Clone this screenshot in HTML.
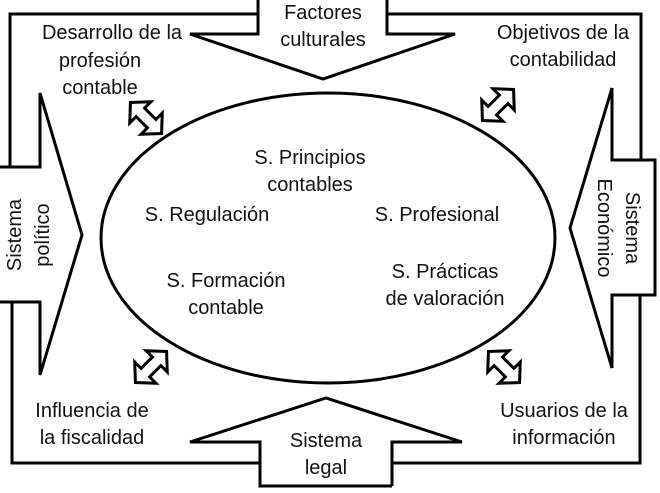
<!DOCTYPE html>
<html><head><meta charset="utf-8"><style>
html,body{margin:0;padding:0;background:#fff;}
svg{display:block;}
text{font-family:"Liberation Sans",sans-serif;font-size:20px;fill:#111;text-anchor:middle;}
</style></head><body>
<svg width="660" height="493" viewBox="0 0 660 493" xmlns="http://www.w3.org/2000/svg">
<g fill="none" stroke="#000" stroke-width="3" stroke-linejoin="miter">
<polyline points="40,167 10,167 10,14 258,14 258,-2"/>
<polyline points="258,-2 258,34 190,34 323,79 455,34 387,34 387,-2"/>
<polyline points="387,14 641,14 641,160 612,160 612,88 570,228 612,368 612,295 655,295 655,160 612,160"/>
<polyline points="640,295 640,463 392,463"/>
<polyline points="392,486 392,442 462,442 326,398 190,442 260,442 260,486 392,486"/>
<polyline points="260,463 12,463 12,302"/>
<polyline points="-2,302 40,302 40,375 82,235 40,93 40,167 -2,167"/>
<ellipse cx="328" cy="238" rx="227" ry="145"/>
</g>
<g fill="#fff" stroke="#000" stroke-width="3" stroke-linejoin="miter">
<polygon transform="translate(146,118) rotate(45)" points="-22,0 -8,-15 -8,-6 8,-6 8,-15 22,0 8,15 8,6 -8,6 -8,15"/>
<polygon transform="translate(498,105) rotate(-45)" points="-22,0 -8,-15 -8,-6 8,-6 8,-15 22,0 8,15 8,6 -8,6 -8,15"/>
<polygon transform="translate(151,367) rotate(-45)" points="-22,0 -8,-15 -8,-6 8,-6 8,-15 22,0 8,15 8,6 -8,6 -8,15"/>
<polygon transform="translate(504,367) rotate(45)" points="-22,0 -8,-15 -8,-6 8,-6 8,-15 22,0 8,15 8,6 -8,6 -8,15"/>
</g>
<text x="323" y="19">Factores</text>
<text x="323" y="46">culturales</text>
<text x="112" y="39">Desarrollo de la</text>
<text x="100" y="67">profesión</text>
<text x="100" y="94">contable</text>
<text x="563" y="39">Objetivos de la</text>
<text x="563" y="66">contabilidad</text>
<text x="310" y="164">S. Principios</text>
<text x="310" y="191">contables</text>
<text x="207" y="221">S.  Regulación</text>
<text x="437" y="221">S.  Profesional</text>
<text x="226" y="287">S.  Formación</text>
<text x="226" y="314">contable</text>
<text x="445" y="278">S.  Prácticas</text>
<text x="445" y="305">de valoración</text>
<text x="92" y="417">Influencia de</text>
<text x="92" y="444">la fiscalidad</text>
<text x="564" y="417">Usuarios de la</text>
<text x="564" y="444">información</text>
<text x="326" y="447">Sistema</text>
<text x="326" y="474">legal</text>
<text transform="translate(21,235) rotate(-90)">Sistema</text>
<text transform="translate(49,235) rotate(-90)">político</text>
<text transform="translate(626,228) rotate(90)">Sistema</text>
<text transform="translate(598,228) rotate(90)">Económico</text>
</svg>
</body></html>
